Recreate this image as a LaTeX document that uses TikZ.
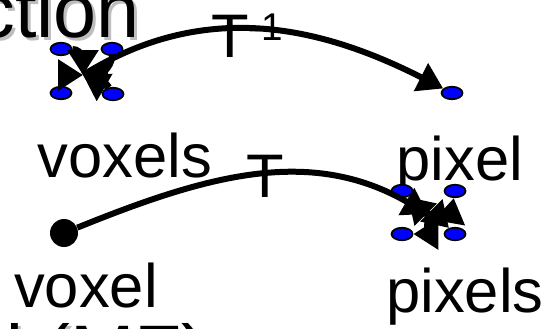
\documentclass[tikz,border=0pt]{standalone}
\usepackage{fontspec}
\setmainfont{Liberation Sans}
\usetikzlibrary{arrows.meta,shapes.geometric}
\definecolor{dotblue}{HTML}{0000FF}
\definecolor{shadowgray}{HTML}{BEBEBE}
\tikzset{
  dotnode/.style={
    ellipse, draw=black, fill=dotblue, line width=1pt,
    minimum width=0.42cm, minimum height=0.25cm, inner sep=0pt
  },
  bigdot/.style={
    circle, fill=black, minimum size=0.56cm, inner sep=0pt
  },
  mapline/.style={
    -{Triangle[length=0.5cm,width=0.6cm]}, line width=0.12cm, color=black
  },
  labelnode/.style={
    font=\fontsize{35}{42}\selectfont, inner sep=0pt
  },
  titlenode/.style={
    font=\fontsize{44}{50}\selectfont, inner sep=0pt, text=#1
  },
  titlenode/.default=black,
}

\begin{document}
\begin{tikzpicture}[x=0.02cm,y=0.02cm]
  \useasboundingbox (0,0) rectangle (546,328);
  \clip (0,0) rectangle (546,328);

  % Cut-off headings
  \node[titlenode=shadowgray, anchor=base east] (headshade) at (143,287) {ction};
  \node[titlenode, anchor=base east] (head) at (140,290) {ction};
  \node[titlenode=shadowgray, anchor=base east] (footshade) at (211,-54) {d (MF)};
  \node[titlenode, anchor=base east] (foot) at (208,-51) {d (MF)};

  % Top row: voxels -> pixel
  \node[dotnode] (va) at (61,279) {};
  \node[dotnode] (vb) at (112,279) {};
  \node[dotnode] (vc) at (61,235) {};
  \node[dotnode] (vd) at (113,234) {};
  \coordinate (vmid) at (83,253);
  \node[dotnode] (pix) at (452,235) {};

  \draw[mapline] (vmid) to[out=32,in=153] (pix);
  \draw[mapline] (va) to[out=0,in=90] (vmid);
  \draw[mapline] (vc) to[out=90,in=180] (vmid);
  \draw[mapline] (vd) to[out=120,in=-30] (vmid);
  \draw[mapline] (vb) to[out=-90,in=0] (vmid);

  \node[labelnode, anchor=base west] (tinv) at (211,270)
    {T\raisebox{0.36cm}{\fontsize{22}{22}\selectfont -1}};
  \node[labelnode, anchor=base] (voxelslbl) at (125,151) {voxels};
  \node[labelnode, anchor=base] (pixellbl) at (460,148) {pixel};

  % Bottom row: voxel -> pixels
  \node[bigdot] (vox) at (64,95) {};
  \node[dotnode] (pa) at (402,137) {};
  \node[dotnode] (pb) at (455,137) {};
  \node[dotnode] (pc) at (402,94) {};
  \node[dotnode] (pd) at (455,94) {};
  \coordinate (pmid) at (428,114);

  \draw[mapline] (vox) to[out=22,in=150] (pmid);
  \draw[mapline] (pmid) to[out=180,in=-45] (pa);
  \draw[mapline] (pmid) to[out=0,in=-100] (pb);
  \draw[mapline] (pmid) to[out=-90,in=0] (pc);
  \draw[mapline] (pmid) to[out=0,in=135] (pd);

  \node[labelnode, anchor=base] (tfwd) at (265,131) {T};
  \node[labelnode, anchor=base] (voxellbl) at (86,21) {voxel};
  \node[labelnode, anchor=base] (pixelslbl) at (465,16) {pixels};
\end{tikzpicture}
\end{document}
